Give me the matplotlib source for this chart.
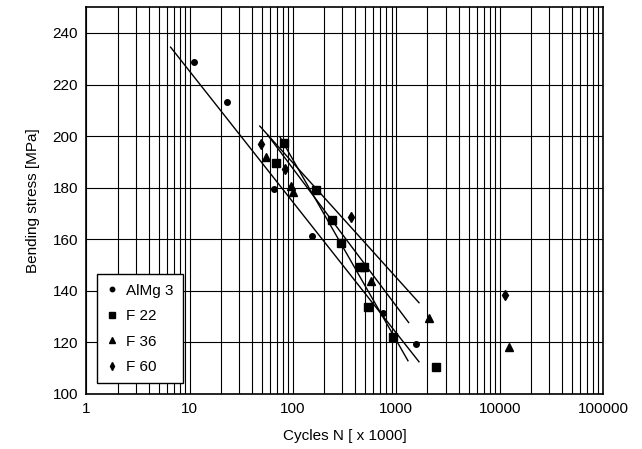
import numpy as np
import matplotlib.pyplot as plt
from matplotlib.ticker import FixedLocator, LogLocator, NullFormatter, FuncFormatter

plt.rcParams['font.family'] = ['Liberation Sans', 'DejaVu Sans']

# measured points, cycles in thousands / bending stress in MPa
almg_n = [11.0, 22.7, 65.5, 152.7, 741, 1537]
almg_s = [228.9, 213.1, 179.4, 161.3, 131.5, 119.4]

f22_n = [81.8, 68, 165, 240, 289, 440, 490, 531, 927, 2399]
f22_s = [197.5, 189.7, 179.1, 167.5, 158.7, 149.1, 149.1, 133.9, 122.0, 110.4]

f36_n = [54.4, 96, 99, 573, 2051, 12190]
f36_s = [192.0, 180.5, 178.3, 143.9, 129.4, 118.3]

f60_n = [48.7, 83.7, 367, 11150]
f60_s = [197.0, 187.1, 168.5, 138.4]

# regression lines (end points)
fit_almg_n = [6.52, 1656]
fit_almg_s = [234.5, 112.5]
fit_f22_n = [74.3, 1295]
fit_f22_s = [199.8, 112.9]
fit_f36_n = [56.9, 1315]
fit_f36_s = [200.4, 127.7]
fit_f60_n = [47.6, 1656]
fit_f60_s = [203.9, 135.4]

fig = plt.figure(figsize=(6.42, 4.49), dpi=100)
ax = fig.add_axes([0.1347, 0.1225, 0.8045, 0.8615])

ax.set_xscale('log')
ax.set_xlim(1, 100000)
ax.set_ylim(100, 250)

ax.xaxis.set_major_locator(LogLocator(base=10, numticks=10))
ax.xaxis.set_minor_locator(LogLocator(base=10, subs=np.arange(2, 10), numticks=20))
ax.xaxis.set_minor_formatter(NullFormatter())
ax.xaxis.set_major_formatter(FuncFormatter(lambda v, p: f'{v:.0f}'))
ax.yaxis.set_major_locator(FixedLocator(np.arange(100, 241, 20)))

ax.grid(True, which='major', axis='both', color='black', linewidth=0.8)
ax.grid(True, which='minor', axis='x', color='black', linewidth=0.8)
ax.set_axisbelow(True)

for sp in ax.spines.values():
    sp.set_linewidth(1.2)
    sp.set_color('black')

ax.tick_params(axis='both', which='both', length=0, labelsize=11, pad=6)

lw = 1.0
ax.plot(fit_almg_n, fit_almg_s, color='black', linewidth=lw)
ax.plot(fit_f22_n, fit_f22_s, color='black', linewidth=lw)
ax.plot(fit_f36_n, fit_f36_s, color='black', linewidth=lw)
ax.plot(fit_f60_n, fit_f60_s, color='black', linewidth=lw)

ax.plot(almg_n, almg_s, 'o', color='black', markersize=4, linestyle='none', label='AlMg 3')
ax.plot(f22_n, f22_s, 's', color='black', markersize=5.5, linestyle='none', label='F 22')
ax.plot(f36_n, f36_s, '^', color='black', markersize=5.5, linestyle='none', label='F 36')
ax.plot(f60_n, f60_s, 'd', color='black', markersize=5, linestyle='none', label='F 60')

leg = ax.legend(loc='lower left', bbox_to_anchor=(0.02, 0.028), fontsize=11,
                frameon=True, fancybox=False, handlelength=0.8, handletextpad=0.5,
                borderpad=0.6, labelspacing=0.75, borderaxespad=0, markerscale=0.8)
leg.get_frame().set_edgecolor('black')
leg.get_frame().set_linewidth(1.0)
leg.get_frame().set_alpha(1)

ax.set_xlabel('Cycles N [ x 1000]', fontsize=11, labelpad=9)
ax.set_ylabel('Bending stress [MPa]', fontsize=11, labelpad=9)

fig.savefig('out.png', dpi=100)
